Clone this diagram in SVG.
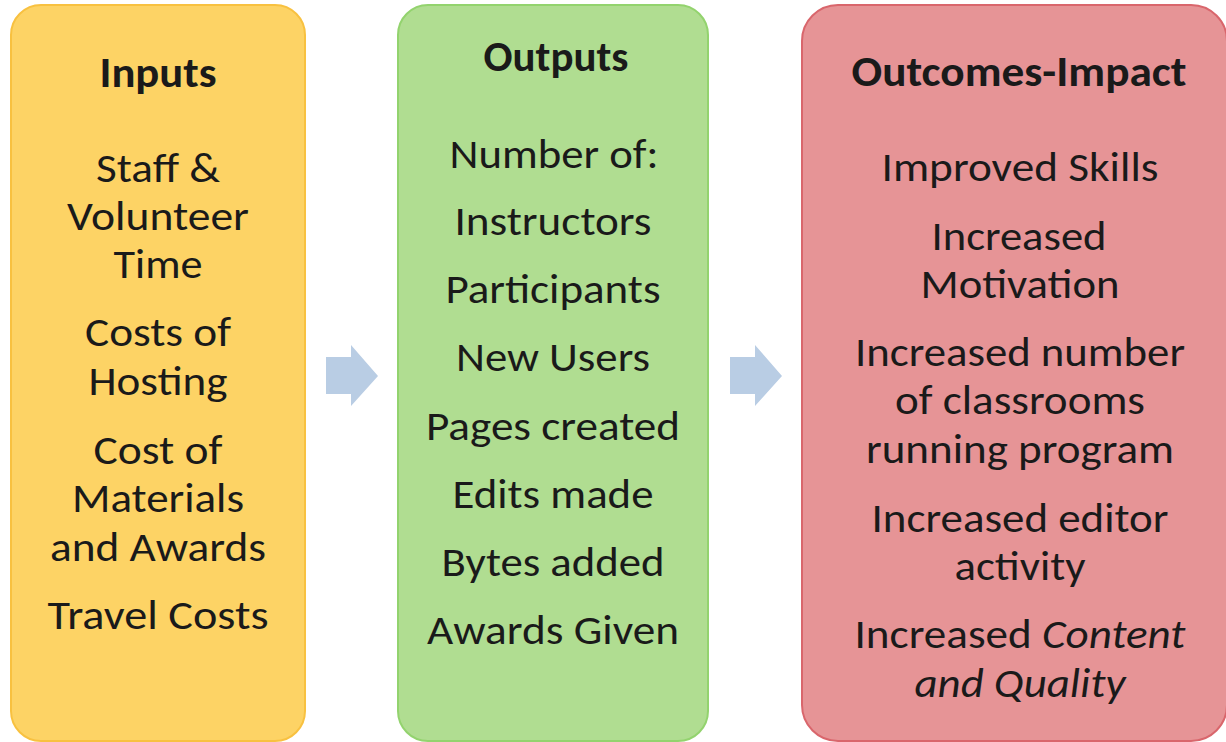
<svg xmlns="http://www.w3.org/2000/svg" width="1226" height="742" viewBox="0 0 1226 742">
<style>
text{font-family:Carlito,Calibri,Lato,"Open Sans",sans-serif;fill:#1a1a1a;text-anchor:middle}
.t{font-weight:bold;font-size:42px}
.b{font-size:40px}
.i{font-style:italic}
.arrow{fill:#b9cde4}
</style>
<rect width="1226" height="742" fill="#ffffff"/>
<g id="inputs">
<rect x="11" y="5" width="294" height="736" rx="30" fill="#fdd365" stroke="#f8c140" stroke-width="2"/>
<text class="t" x="158" y="87" textLength="117" lengthAdjust="spacingAndGlyphs">Inputs</text>
<text class="b" x="158" y="182" textLength="124" lengthAdjust="spacingAndGlyphs">Staff &amp;</text>
<text class="b" x="158" y="230" textLength="182" lengthAdjust="spacingAndGlyphs">Volunteer</text>
<text class="b" x="158" y="278" textLength="89" lengthAdjust="spacingAndGlyphs">Time</text>
<text class="b" x="158" y="346" textLength="146" lengthAdjust="spacingAndGlyphs">Costs of</text>
<text class="b" x="158" y="395" textLength="139" lengthAdjust="spacingAndGlyphs">Hosting</text>
<text class="b" x="158" y="464" textLength="129" lengthAdjust="spacingAndGlyphs">Cost of</text>
<text class="b" x="158" y="512" textLength="172" lengthAdjust="spacingAndGlyphs">Materials</text>
<text class="b" x="158" y="561" textLength="216" lengthAdjust="spacingAndGlyphs">and Awards</text>
<text class="b" x="158" y="629" textLength="221" lengthAdjust="spacingAndGlyphs">Travel Costs</text>
</g>
<g id="outputs">
<rect x="398" y="5" width="310" height="736" rx="30" fill="#b0dd91" stroke="#93d36e" stroke-width="2"/>
<text class="t" x="556" y="71" textLength="145" lengthAdjust="spacingAndGlyphs">Outputs</text>
<text class="b" x="554" y="168" textLength="209" lengthAdjust="spacingAndGlyphs">Number of:</text>
<text class="b" x="553" y="235" textLength="197" lengthAdjust="spacingAndGlyphs">Instructors</text>
<text class="b" x="553" y="303" textLength="215" lengthAdjust="spacingAndGlyphs">Participants</text>
<text class="b" x="553" y="371" textLength="194" lengthAdjust="spacingAndGlyphs">New Users</text>
<text class="b" x="553" y="440" textLength="254" lengthAdjust="spacingAndGlyphs">Pages created</text>
<text class="b" x="553" y="508" textLength="201" lengthAdjust="spacingAndGlyphs">Edits made</text>
<text class="b" x="553" y="576" textLength="223" lengthAdjust="spacingAndGlyphs">Bytes added</text>
<text class="b" x="553" y="644" textLength="252" lengthAdjust="spacingAndGlyphs">Awards Given</text>
</g>
<g id="outcomes">
<rect x="802" y="5" width="425" height="736" rx="36" fill="#e69496" stroke="#d9666c" stroke-width="2"/>
<text class="t" x="1019" y="86" textLength="335" lengthAdjust="spacingAndGlyphs">Outcomes-Impact</text>
<text class="b" x="1020" y="181" textLength="277" lengthAdjust="spacingAndGlyphs">Improved Skills</text>
<text class="b" x="1019" y="250" textLength="175" lengthAdjust="spacingAndGlyphs">Increased</text>
<text class="b" x="1020" y="298" textLength="199" lengthAdjust="spacingAndGlyphs">Motivation</text>
<text class="b" x="1020" y="366" textLength="330" lengthAdjust="spacingAndGlyphs">Increased number</text>
<text class="b" x="1020" y="414" textLength="250" lengthAdjust="spacingAndGlyphs">of classrooms</text>
<text class="b" x="1020" y="463" textLength="308" lengthAdjust="spacingAndGlyphs">running program</text>
<text class="b" x="1020" y="532" textLength="297" lengthAdjust="spacingAndGlyphs">Increased editor</text>
<text class="b" x="1020" y="580" textLength="131" lengthAdjust="spacingAndGlyphs">activity</text>
<text class="b" x="1020" y="648" textLength="331" lengthAdjust="spacingAndGlyphs">Increased <tspan class="i">Content</tspan></text>
<text class="b i" x="1020" y="697" textLength="211" lengthAdjust="spacingAndGlyphs">and Quality</text>
</g>
<g id="connectors">
<polygon class="arrow" points="326,357 351,357 351,345 378,376 351,406 351,394 326,394"/>
<polygon class="arrow" points="730,357 755,357 755,345 782,376 755,406 755,394 730,394"/>
</g>
</svg>
